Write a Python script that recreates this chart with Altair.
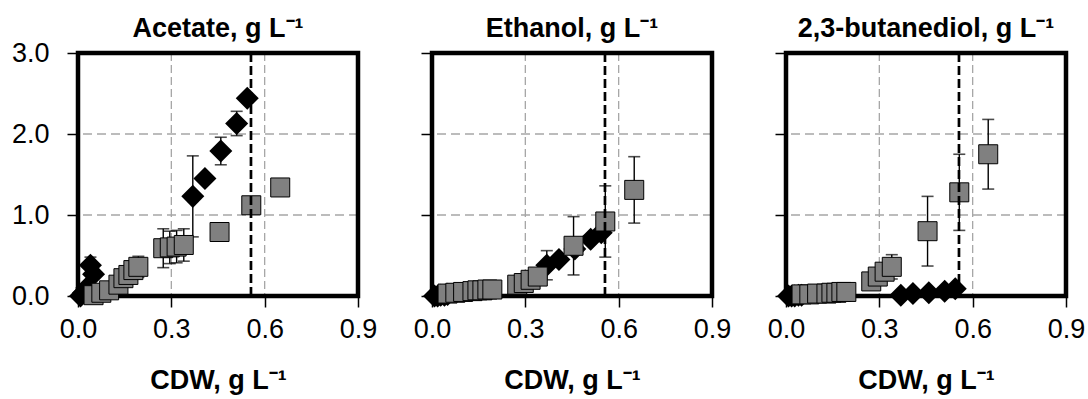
import altair as alt
import pandas as pd

# ---------------- data ----------------
panel_titles = ["Acetate, g L⁻¹", "Ethanol, g L⁻¹", "2,3-butanediol, g L⁻¹"]
x_title = "CDW, g L⁻¹"
x_ticks = [0.0, 0.3, 0.6, 0.9]
y_ticks = [0.0, 1.0, 2.0, 3.0]
grid_x = [0.3, 0.6]
grid_y = [1.0, 2.0]
marker_x = [0.556]

sq_x = [0.05, 0.075, 0.10, 0.13, 0.146, 0.162, 0.178, 0.194, 0.274, 0.295, 0.317, 0.34, 0.455, 0.557, 0.65]
dia_x = [0.008, 0.018, 0.028, 0.04, 0.05, 0.369, 0.408, 0.459, 0.51, 0.544]

acetate_sq = [0.01, 0.04, 0.07, 0.14, 0.22, 0.26, 0.32, 0.36, 0.59, 0.60, 0.61, 0.63, 0.79, 1.12, 1.34]
acetate_sq_err = [0, 0, 0, 0.03, 0.05, 0.08, 0.10, 0.13, 0.24, 0.20, 0.20, 0.20, 0.03, 0.03, 0.03]
acetate_dia = [0.0, 0.04, 0.10, 0.38, 0.27, 1.23, 1.45, 1.79, 2.13, 2.44]
acetate_dia_err = [0, 0, 0, 0.10, 0.05, 0.50, 0.05, 0.17, 0.15, 0.05]

ethanol_sq = [0.03, 0.04, 0.05, 0.06, 0.07, 0.07, 0.08, 0.08, 0.14, 0.16, 0.20, 0.24, 0.62, 0.92, 1.31]
ethanol_sq_err = [0, 0, 0, 0, 0, 0, 0, 0, 0.02, 0.02, 0.03, 0.03, 0.36, 0.44, 0.41]
ethanol_dia = [0.0, 0.0, 0.01, 0.01, 0.02, 0.38, 0.45, 0.58, 0.70, 0.78]
ethanol_dia_err = [0, 0, 0, 0, 0, 0.18, 0.05, 0.05, 0.05, 0.05]

bdo_sq = [0.02, 0.02, 0.03, 0.03, 0.04, 0.04, 0.05, 0.05, 0.18, 0.24, 0.30, 0.36, 0.80, 1.28, 1.75]
bdo_sq_err = [0, 0, 0, 0, 0, 0, 0, 0, 0.02, 0.03, 0.05, 0.15, 0.43, 0.47, 0.43]
bdo_dia = [0.0, 0.0, 0.0, 0.01, 0.01, 0.01, 0.03, 0.04, 0.06, 0.09]
bdo_dia_err = [0, 0, 0, 0, 0, 0, 0, 0, 0, 0]

series = [
    (acetate_sq, acetate_sq_err, acetate_dia, acetate_dia_err),
    (ethanol_sq, ethanol_sq_err, ethanol_dia, ethanol_dia_err),
    (bdo_sq, bdo_sq_err, bdo_dia, bdo_dia_err),
]

# ---------------- style ----------------
W, H = 280, 243
FONT = "Liberation Sans, Arial, sans-serif"
GRAY = "#808080"
GRID = "#a6a6a6"

xs = alt.Scale(domain=[0, 0.9], nice=False, zero=False)
ys = alt.Scale(domain=[0, 3], nice=False, zero=False)


def make_panel(i, sq, sq_err, dia, dia_err):
    df_sq = pd.DataFrame({"x": sq_x, "y": sq, "e": sq_err})
    df_sq["lo"] = df_sq["y"] - df_sq["e"]
    df_sq["hi"] = df_sq["y"] + df_sq["e"]
    df_dia = pd.DataFrame({"x": dia_x, "y": dia, "e": dia_err})
    df_dia["lo"] = df_dia["y"] - df_dia["e"]
    df_dia["hi"] = df_dia["y"] + df_dia["e"]
    err = pd.concat([df_sq, df_dia])
    err = err[err["e"] > 0]

    show_labels = i == 0
    x_axis = alt.Axis(values=x_ticks, format=".1f", title=x_title, grid=False,
                      domain=False, tickSize=11, tickColor="black", tickWidth=1.5,
                      labelFont=FONT, labelFontSize=27, labelColor="black",
                      labelPadding=9, titleFont=FONT, titleFontSize=27,
                      titleFontWeight="bold", titleColor="black", titlePadding=25,
                      labelFlush=False, labelOverlap=False)
    y_axis = alt.Axis(values=y_ticks, format=".1f", title=None, grid=False,
                      domain=False, tickSize=11, tickColor="black", tickWidth=1.5,
                      labels=show_labels, labelFont=FONT, labelFontSize=27,
                      labelColor="black", labelPadding=18, labelFlush=False,
                      labelOverlap=False)

    base_x = alt.X("x:Q", scale=xs, axis=x_axis)
    base_y = alt.Y("y:Q", scale=ys, axis=y_axis)

    gx = alt.Chart(pd.DataFrame({"x": grid_x})).mark_rule(
        color=GRID, strokeWidth=1.3, strokeDash=[8, 4]
    ).encode(x=base_x)
    gy = alt.Chart(pd.DataFrame({"y": grid_y})).mark_rule(
        color=GRID, strokeWidth=1.3, strokeDash=[9, 5]
    ).encode(y=base_y)

    border = alt.Chart(pd.DataFrame({"a": [0]})).mark_rect(
        fill=None, stroke="black", strokeWidth=4.5
    ).encode(x=alt.value(0), x2=alt.value(W), y=alt.value(0), y2=alt.value(H))

    bars = alt.Chart(err).mark_rule(color="black", strokeWidth=1.4).encode(
        x=base_x, y=alt.Y("lo:Q", scale=ys), y2="hi:Q")
    cap_hi = alt.Chart(err).mark_tick(color="black", orient="horizontal",
                                      size=12, thickness=1.6).encode(
        x=base_x, y=alt.Y("hi:Q", scale=ys))
    cap_lo = alt.Chart(err).mark_tick(color="black", orient="horizontal",
                                      size=12, thickness=1.6).encode(
        x=base_x, y=alt.Y("lo:Q", scale=ys))

    diamonds = alt.Chart(df_dia).mark_point(
        shape="diamond", filled=True, color="black", size=530, opacity=1
    ).encode(x=base_x, y=base_y)
    squares = alt.Chart(df_sq).mark_point(
        shape="square", filled=True, fill=GRAY, stroke="black", strokeWidth=1,
        size=361, opacity=1
    ).encode(x=base_x, y=base_y)

    vline = alt.Chart(pd.DataFrame({"x": marker_x})).mark_rule(
        color="black", strokeWidth=2.7, strokeDash=[9, 4]
    ).encode(x=base_x)

    title = alt.Chart(pd.DataFrame({"t": [panel_titles[i]]})).mark_text(
        font=FONT, fontSize=27, fontWeight="bold", color="black",
        align="center", baseline="alphabetic"
    ).encode(x=alt.value(W / 2), y=alt.value(-16), text="t:N")

    return alt.layer(gx, gy, border, bars, cap_hi, cap_lo, diamonds, squares,
                     vline, title).properties(width=W, height=H)


panels = [make_panel(i, *s) for i, s in enumerate(series)]

chart = alt.hconcat(*panels, spacing=74, bounds="flush").properties(
    padding={"left": 11, "top": 15, "right": 2, "bottom": 2}
).configure_view(stroke=None)

chart.save("out.html", embed_options={"renderer": "svg", "actions": False})
